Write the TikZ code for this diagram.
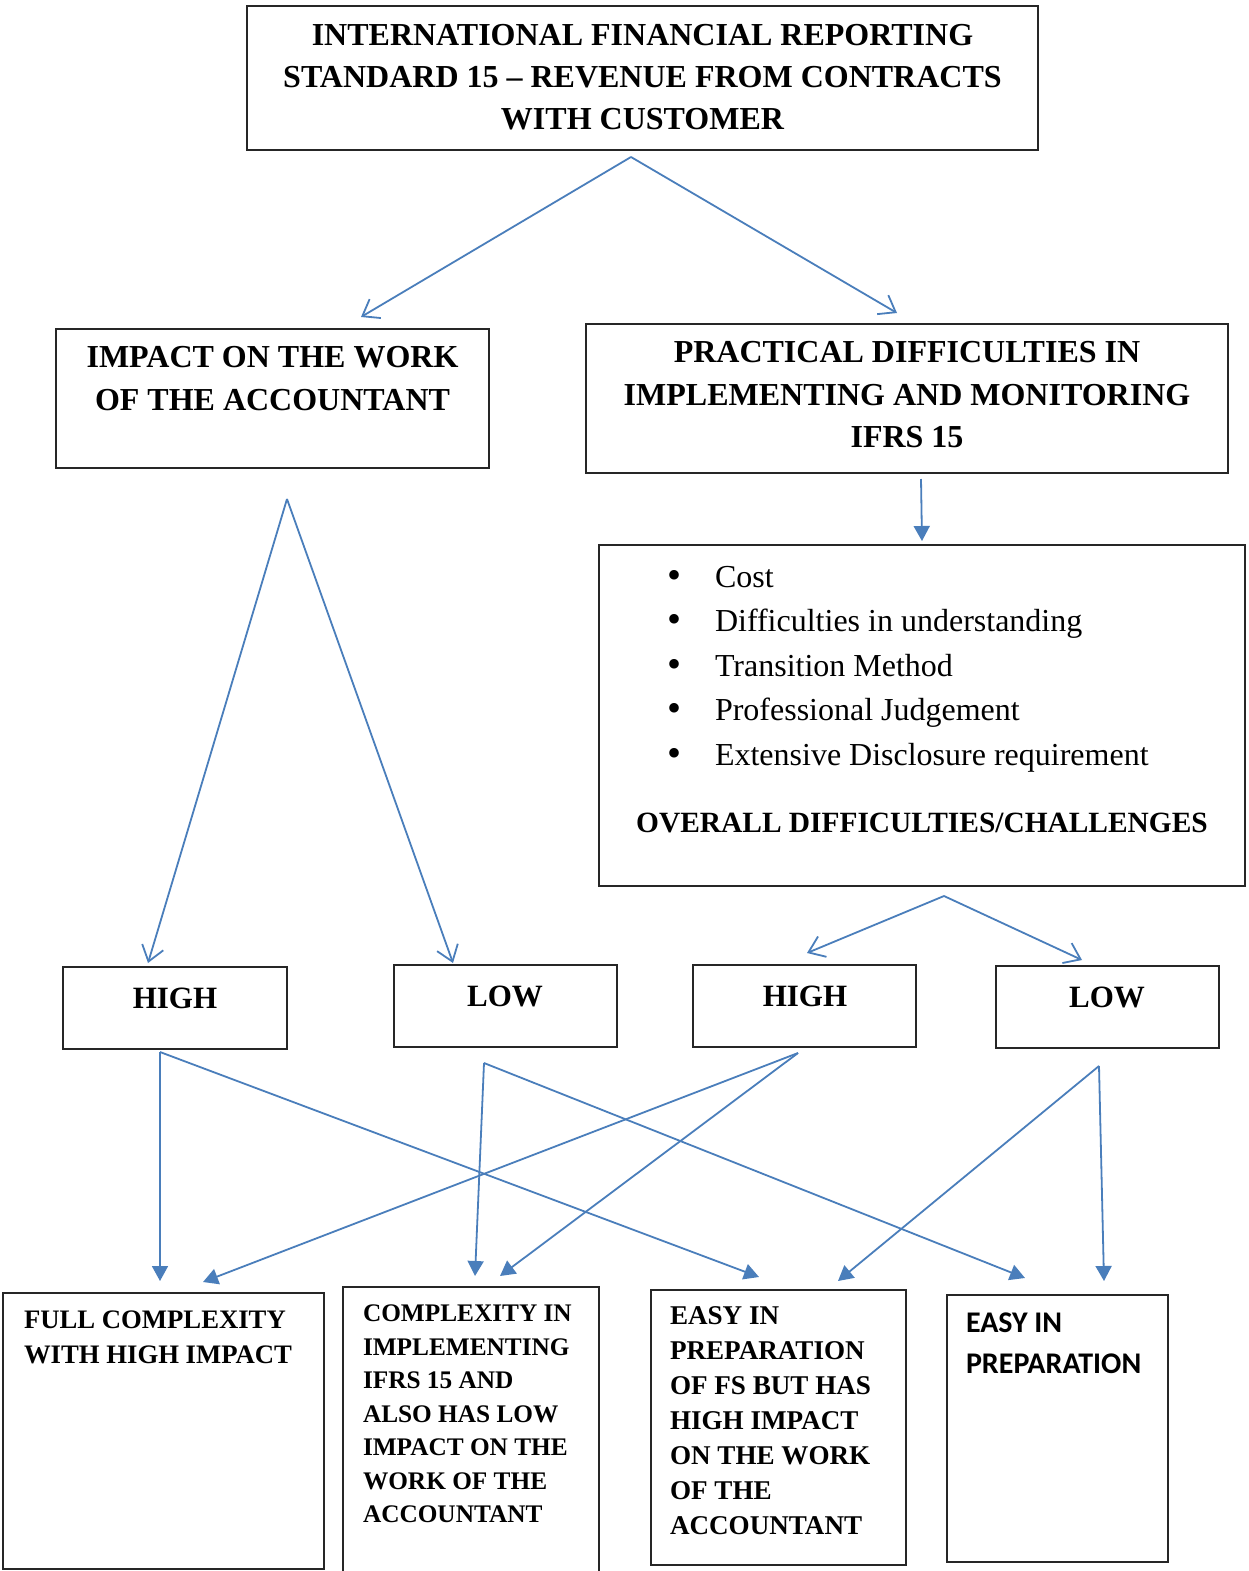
\documentclass[tikz,border=0pt]{standalone}
\usepackage{fontspec}
\setmainfont{Liberation Serif}
\newfontfamily\calfont{Carlito}
\usetikzlibrary{arrows.meta}
\definecolor{linkblue}{HTML}{4A7EBB}
\definecolor{boxline}{HTML}{262626}

\begin{document}
\begin{tikzpicture}[x=1pt,y=-1pt,
  box/.style={draw=boxline, line width=1.5pt, inner sep=0pt, fill=none},
  txt/.style={inner sep=0pt, outer sep=0pt, text=black},
  openarr/.style={draw=linkblue, line width=1.8pt,
    -{Straight Barb[length=15pt,width=22pt,line width=1.8pt]}},
  fillarr/.style={draw=linkblue, line width=1.8pt,
    -{Triangle[length=15pt,width=16pt]}},
  ]
\useasboundingbox (0,0) rectangle (1248,1571);

% ---------- boxes ----------
\node[box, minimum width=791pt, minimum height=144pt] (titlebox) at (642.5,78) {};
\node[box, minimum width=433pt, minimum height=139pt] (impactbox) at (272.5,398.5) {};
\node[box, minimum width=642pt, minimum height=149pt] (practbox) at (907,398.5) {};
\node[box, minimum width=646pt, minimum height=341pt] (listbox) at (922,715.5) {};

\node[box, minimum width=224pt, minimum height=82pt] (highA) at (175,1008) {};
\node[box, minimum width=223pt, minimum height=82pt] (lowA) at (505.5,1006) {};
\node[box, minimum width=223pt, minimum height=82pt] (highB) at (804.5,1006) {};
\node[box, minimum width=223pt, minimum height=82pt] (lowB) at (1107.5,1007) {};

\node[box, minimum width=321pt, minimum height=276pt] (resA) at (163.5,1431) {};
\node[box, minimum width=256pt, minimum height=295pt] (resB) at (471,1434.5) {};
\node[box, minimum width=255pt, minimum height=275pt] (resC) at (778.5,1427.5) {};
\node[box, minimum width=221pt, minimum height=267pt] (resD) at (1057.5,1428.5) {};

% ---------- texts ----------
\node[txt, anchor=north, align=center, font=\bfseries\fontsize{32}{42}\selectfont]
  (titletext) at (642.5,24) {INTERNATIONAL FINANCIAL REPORTING\\STANDARD 15 – REVENUE FROM CONTRACTS\\WITH CUSTOMER};

\node[txt, anchor=north, align=center, font=\bfseries\fontsize{32}{43}\selectfont]
  (impacttext) at (272.5,346.5) {IMPACT ON THE WORK\\OF THE ACCOUNTANT};

\node[txt, anchor=north, align=center, font=\bfseries\fontsize{32}{42.5}\selectfont]
  (practtext) at (907,341.5) {PRACTICAL DIFFICULTIES IN\\IMPLEMENTING AND MONITORING\\IFRS 15};

\node[txt, anchor=north west, align=left, font=\fontsize{32}{44.6}\selectfont]
  (listtext) at (667,566) {%
  \makebox[48pt][l]{\raisebox{-1pt}{\scalebox{1.25}{•}}}Cost\\
  \makebox[48pt][l]{\raisebox{-1pt}{\scalebox{1.25}{•}}}Difficulties in understanding\\
  \makebox[48pt][l]{\raisebox{-1pt}{\scalebox{1.25}{•}}}Transition Method\\
  \makebox[48pt][l]{\raisebox{-1pt}{\scalebox{1.25}{•}}}Professional Judgement\\
  \makebox[48pt][l]{\raisebox{-1pt}{\scalebox{1.25}{•}}}Extensive Disclosure requirement};

\node[txt, anchor=base, font=\bfseries\fontsize{29.4}{35}\selectfont]
  (overalltext) at (922,832) {OVERALL DIFFICULTIES/CHALLENGES};

\node[txt, anchor=base, font=\bfseries\fontsize{31}{37}\selectfont] (highAtext) at (175,1008) {HIGH};
\node[txt, anchor=base, font=\bfseries\fontsize{31}{37}\selectfont] (lowAtext) at (505,1006) {LOW};
\node[txt, anchor=base, font=\bfseries\fontsize{31}{37}\selectfont] (highBtext) at (805,1006) {HIGH};
\node[txt, anchor=base, font=\bfseries\fontsize{31}{37}\selectfont] (lowBtext) at (1107,1007) {LOW};

\node[txt, anchor=north west, align=left, font=\bfseries\fontsize{26.7}{35}\selectfont]
  (resAtext) at (24,1311) {FULL COMPLEXITY\\WITH HIGH IMPACT};
\node[txt, anchor=north west, align=left, font=\bfseries\fontsize{25.3}{33.5}\selectfont]
  (resBtext) at (363,1305) {COMPLEXITY IN\\IMPLEMENTING\\IFRS 15 AND\\ALSO HAS LOW\\IMPACT ON THE\\WORK OF THE\\ACCOUNTANT};
\node[txt, anchor=north west, align=left, font=\bfseries\fontsize{27.1}{35}\selectfont]
  (resCtext) at (670,1307) {EASY IN\\PREPARATION\\OF FS BUT HAS\\HIGH IMPACT\\ON THE WORK\\OF THE\\ACCOUNTANT};
\node[txt, anchor=north west, align=left, font=\calfont\bfseries\fontsize{30}{41}\selectfont]
  (resDtext) at (966,1313) {EASY IN\\PREPARATION};

% ---------- connector end points ----------
\coordinate (tsplit) at (631,157);
\coordinate (tl) at (361,317);
\coordinate (tr) at (897,313);
\coordinate (pdown0) at (921,479);
\coordinate (pdown1) at (922,541);
\coordinate (lsplit) at (287,499);
\coordinate (ll) at (148,963);
\coordinate (lr) at (453,963);
\coordinate (rsplit) at (944,896);
\coordinate (rl) at (807,953);
\coordinate (rr) at (1082,960);

\coordinate (hA) at (160,1052);
\coordinate (lA) at (484,1063);
\coordinate (hB) at (798,1053);
\coordinate (lB) at (1099,1066);
\coordinate (endA1) at (160,1281);
\coordinate (endA2) at (203,1282);
\coordinate (endB1) at (475,1276);
\coordinate (endB2) at (500,1276);
\coordinate (endC1) at (759,1277);
\coordinate (endC2) at (838,1281);
\coordinate (endD1) at (1025,1278);
\coordinate (endD2) at (1104,1281);

% ---------- connectors ----------
\draw[openarr] (tsplit) -- (tl);
\draw[openarr] (tsplit) -- (tr);
\draw[fillarr] (pdown0) -- (pdown1);
\draw[openarr] (lsplit) -- (ll);
\draw[openarr] (lsplit) -- (lr);
\draw[openarr] (rsplit) -- (rl);
\draw[openarr] (rsplit) -- (rr);

\draw[fillarr] (hA) -- (endA1);
\draw[fillarr] (hA) -- (endC1);
\draw[fillarr] (lA) -- (endB1);
\draw[fillarr] (lA) -- (endD1);
\draw[fillarr] (hB) -- (endA2);
\draw[fillarr] (hB) -- (endB2);
\draw[fillarr] (lB) -- (endC2);
\draw[fillarr] (lB) -- (endD2);
\end{tikzpicture}
\end{document}
